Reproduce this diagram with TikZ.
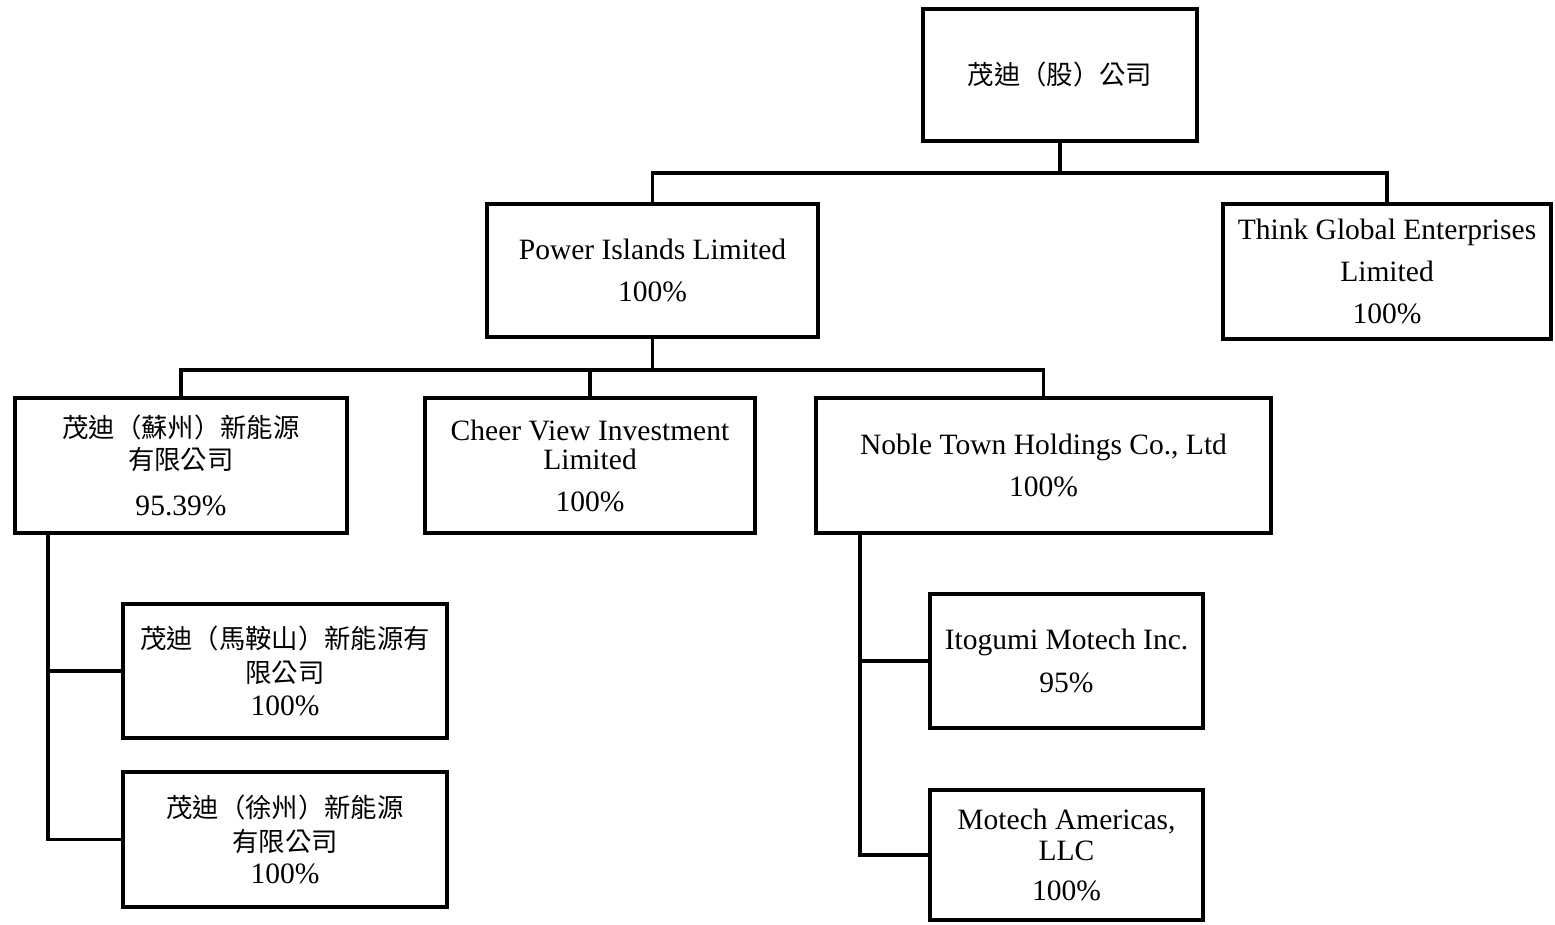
\documentclass[tikz,border=0pt]{standalone}
\usepackage{fontspec}
\setmainfont{Liberation Serif}
\newfontfamily\cjk{Noto Sans CJK TC}
\newcommand{\zhtxt}{\cjk\fontsize{7.5}{8.3}\selectfont}
\usetikzlibrary{positioning}

\begin{document}
\begin{tikzpicture}
[line width=1.1pt,
  box/.style={draw,rectangle,inner sep=0pt,align=center,
    font=\fontsize{8.4}{8.3}\selectfont}]

  \useasboundingbox (0,0) rectangle (15.55,-9.25);

  % top level
  \node[box,minimum width=2.74cm,minimum height=1.32cm] (gu) at (10.60,-0.75) {\zhtxt 茂迪（股）公司};

  \node[box,minimum width=3.31cm,minimum height=1.33cm] (power) at (6.525,-2.705) {Power Islands Limited\\[3.8pt]100\%};
  \node[box,minimum width=3.28cm,minimum height=1.35cm] (think) at (13.87,-2.715) {Think Global Enterprises\\[3.6pt]Limited\\[3.6pt]100\%};

  % under Power Islands
  \node[box,minimum width=3.32cm,minimum height=1.35cm] (suzhou) at (1.81,-4.655) {{\zhtxt 茂迪（蘇州）新能源}\\[0.8pt]{\zhtxt 有限公司}\\[5pt]95.39\%};
  \node[box,minimum width=3.30cm,minimum height=1.35cm] (cheer) at (5.90,-4.655) {Cheer View Investment\\Limited\\[3.6pt]100\%};
  \node[box,minimum width=4.55cm,minimum height=1.35cm] (noble) at (10.435,-4.655) {Noble Town Holdings Co., Ltd\\[3.8pt]100\%};

  % third level
  \node[box,minimum width=3.24cm,minimum height=1.34cm] (maanshan) at (2.85,-6.71) {{\zhtxt 茂迪（馬鞍山）新能源有}\\[1.3pt]{\zhtxt 限公司}\\[1pt]100\%};
  \node[box,minimum width=3.24cm,minimum height=1.35cm] (xuzhou) at (2.85,-8.395) {{\zhtxt 茂迪（徐州）新能源}\\[1.3pt]{\zhtxt 有限公司}\\[1pt]100\%};
  \node[box,minimum width=2.73cm,minimum height=1.34cm] (itogumi) at (10.665,-6.61) {Itogumi Motech Inc.\\[3.8pt]95\%};
  \node[box,minimum width=2.73cm,minimum height=1.30cm] (americas) at (10.665,-8.55) {Motech Americas,\\[0.5pt]LLC\\[3.3pt]100\%};

  % junctions
  \coordinate (j1) at (10.60,-1.73);
  \coordinate (j2) at (6.525,-3.70);
  \coordinate (sz) at (0.48,-4.655);
  \coordinate (nt) at (8.60,-4.655);

  \draw (gu.south) -- (j1);
  \draw (power.north) |- (j1) -| (think.north);

  \draw (power.south) -- (j2);
  \draw (suzhou.north) |- (j2) -| (noble.north);
  \draw (cheer.north) -- (cheer.north |- j2);

  \draw (sz |- suzhou.south) -- (sz |- xuzhou.west) -- (xuzhou.west);
  \draw (sz |- maanshan.west) -- (maanshan.west);

  \draw (nt |- noble.south) -- (nt |- americas.west) -- (americas.west);
  \draw (nt |- itogumi.west) -- (itogumi.west);

\end{tikzpicture}
\end{document}
